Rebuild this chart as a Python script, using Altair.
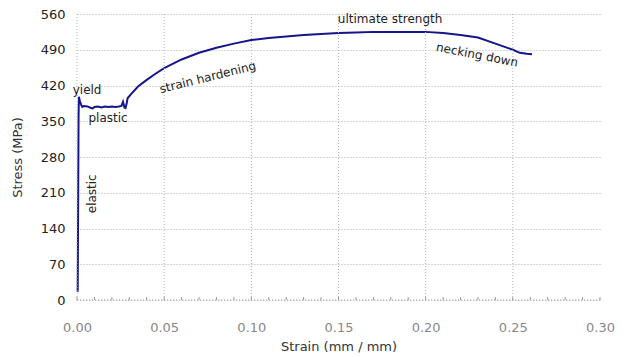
import altair as alt
import pandas as pd

# Stress-strain curve
strain = [0.0004, 0.0005, 0.0007, 0.0009, 0.0011, 0.0016, 0.0023, 0.003, 0.004, 0.006,
          0.008, 0.009, 0.010, 0.012, 0.014, 0.016, 0.018, 0.020, 0.022, 0.024,
          0.0255, 0.0264, 0.0272, 0.0278, 0.0285, 0.029, 0.031, 0.035, 0.04, 0.045,
          0.05, 0.06, 0.07, 0.08, 0.09, 0.10, 0.11, 0.12, 0.13, 0.14,
          0.15, 0.16, 0.17, 0.18, 0.19, 0.20, 0.21, 0.22, 0.23, 0.24,
          0.25, 0.254, 0.258, 0.261]
stress = [16, 80, 220, 360, 398, 390, 383, 378, 380, 379,
          376, 375, 378, 379, 377, 379, 378, 379, 378, 379,
          380, 388, 377, 376, 385, 395, 403, 418, 431, 443,
          454, 471, 484, 494, 502, 509, 513, 516, 519, 521,
          523, 524, 525, 525, 525, 525, 523, 519, 514, 502,
          490, 484, 482, 481]

# Annotations
ann_text = ["yield", "plastic", "elastic", "strain hardening", "ultimate strength", "necking down"]
ann_x = [0.0058, 0.0178, 0.0086, 0.075, 0.1796, 0.2295]
ann_y = [412, 356, 208, 436, 551, 480]
ann_angle = [0, 0, 270, 346, 0, 11]

x_ticks = [0.00, 0.05, 0.10, 0.15, 0.20, 0.25, 0.30]
minor_ticks = [round(i * 0.01, 2) for i in range(31)]
x_grid = [0.00, 0.05, 0.10, 0.15, 0.20, 0.25]
y_ticks = [0, 70, 140, 210, 280, 350, 420, 490, 560]

curve = pd.DataFrame({"strain": strain, "stress": stress, "i": range(len(strain))})
ann = pd.DataFrame({"t": ann_text, "x": ann_x, "y": ann_y, "a": ann_angle})
minor = pd.DataFrame({"x": minor_ticks})
vgrid = pd.DataFrame({"x": x_grid})
baseline = pd.DataFrame({"x": [0.0], "x2": [0.30], "y": [0]})

FONT = "DejaVu Sans"
GRID = "#b0b0b0"
DASH = [1, 2]
xscale = alt.Scale(domain=[0, 0.30], nice=False, zero=False)
yscale = alt.Scale(domain=[0, 560], nice=False)

xaxis = alt.Axis(values=x_ticks, format=".2f", title="Strain (mm / mm)",
                 grid=False, ticks=False, domain=False, labelPadding=21,
                 labelOverlap=False, labelFlush=False,
                 labelColor="#888888", labelFontSize=13, labelFont=FONT,
                 titleFont=FONT, titleFontSize=13, titleFontWeight="normal",
                 titleColor="#333333", titlePadding=6)
yaxis = alt.Axis(values=y_ticks, title="Stress (MPa)", grid=True,
                 gridColor=GRID, gridDash=DASH, ticks=False,
                 labelOverlap=False, labelFlush=False,
                 domain=False, labelPadding=12, labelColor="#222222",
                 labelFontSize=13, labelFont=FONT, titleFont=FONT,
                 titleFontSize=13, titleFontWeight="normal",
                 titleColor="#333333", titlePadding=16)

line = alt.Chart(curve).mark_line(color="#15158c", strokeWidth=2).encode(
    x=alt.X("strain:Q", scale=xscale, axis=xaxis),
    y=alt.Y("stress:Q", scale=yscale, axis=yaxis),
    order="i:Q")

grid_v = alt.Chart(vgrid).mark_rule(color=GRID, strokeDash=DASH).encode(
    x=alt.X("x:Q", scale=xscale, axis=xaxis), y=alt.value(0), y2=alt.value(286))

base_line = alt.Chart(baseline).mark_rule(color="#999999", strokeDash=DASH).encode(
    x=alt.X("x:Q", scale=xscale, axis=xaxis), x2="x2:Q",
    y=alt.Y("y:Q", scale=yscale, axis=yaxis))

minor_t = alt.Chart(minor).mark_rule(color="#999999").encode(
    x=alt.X("x:Q", scale=xscale, axis=xaxis), y=alt.value(283), y2=alt.value(286))

text = alt.Chart(ann).mark_text(font=FONT, fontSize=12, color="#222222").encode(
    x=alt.X("x:Q", scale=xscale, axis=xaxis),
    y=alt.Y("y:Q", scale=yscale, axis=yaxis),
    text="t:N", angle=alt.Angle("a:Q", scale=None))

chart = alt.layer(line, grid_v, base_line, minor_t, text).properties(
    width=523, height=286,
    autosize=alt.AutoSizeParams(type="none"),
    padding={"left": 69, "top": 6, "right": 16, "bottom": 57},
    view=alt.ViewBackground(strokeWidth=0, stroke="transparent"),
).configure_view(stroke="transparent", strokeWidth=0).configure(background="white")

chart.save("out.html", embed_options={"renderer": "svg", "actions": False})
